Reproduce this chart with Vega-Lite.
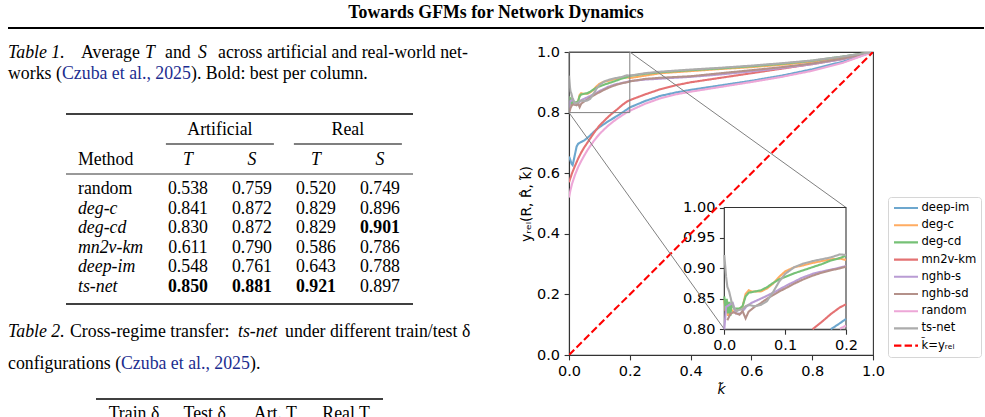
{
  "$schema": "https://vega.github.io/schema/vega-lite/v6.json",
  "padding": {"left": 7, "top": 0, "right": 0, "bottom": 0},
  "bounds": "flush",
  "spacing": 24,
  "resolve": {"scale": {"color": "independent", "strokeDash": "independent"}},
  "datasets": {
    "header": [{"text": "Towards GFMs for Network Dynamics"}],
    "captions": [
      {"table": 1, "line": 1, "part": "label", "text": "Table 1."},
      {"table": 1, "line": 1, "part": "w1", "text": "Average"},
      {"table": 1, "line": 1, "part": "m1", "text": "T"},
      {"table": 1, "line": 1, "part": "w2", "text": "and"},
      {"table": 1, "line": 1, "part": "m2", "text": "S"},
      {"table": 1, "line": 1, "part": "w3", "text": "across artificial and real-world net-"},
      {"table": 1, "line": 2, "part": "lead", "text": "works ("},
      {"table": 1, "line": 2, "part": "cite", "text": "Czuba et al., 2025"},
      {"table": 1, "line": 2, "part": "tail", "text": "). Bold: best per column."},
      {"table": 2, "line": 1, "part": "label", "text": "Table 2."},
      {"table": 2, "line": 1, "part": "w1", "text": "Cross-regime transfer:"},
      {"table": 2, "line": 1, "part": "m1", "text": "ts-net"},
      {"table": 2, "line": 1, "part": "w2", "text": "under different train/test δ"},
      {"table": 2, "line": 2, "part": "lead", "text": "configurations ("},
      {"table": 2, "line": 2, "part": "cite", "text": "Czuba et al., 2025"},
      {"table": 2, "line": 2, "part": "tail", "text": ")."}
    ],
    "t1head": [
      {"kind": "colhead", "col": "Method", "label": "Method", "row": "head"},
      {"kind": "colhead", "col": "AT", "label": "T", "row": "head"},
      {"kind": "colhead", "col": "AS", "label": "S", "row": "head"},
      {"kind": "colhead", "col": "RT", "label": "T", "row": "head"},
      {"kind": "colhead", "col": "RS", "label": "S", "row": "head"},
      {"kind": "group", "group": "Artificial", "row": "group"},
      {"kind": "group", "group": "Real", "row": "group"}
    ],
    "t1": [
      {"method": "random", "col": "AT", "value": 0.538},
      {"method": "random", "col": "AS", "value": 0.759},
      {"method": "random", "col": "RT", "value": 0.520},
      {"method": "random", "col": "RS", "value": 0.749},
      {"method": "deg-c", "col": "AT", "value": 0.841},
      {"method": "deg-c", "col": "AS", "value": 0.872},
      {"method": "deg-c", "col": "RT", "value": 0.829},
      {"method": "deg-c", "col": "RS", "value": 0.896},
      {"method": "deg-cd", "col": "AT", "value": 0.830},
      {"method": "deg-cd", "col": "AS", "value": 0.872},
      {"method": "deg-cd", "col": "RT", "value": 0.829},
      {"method": "deg-cd", "col": "RS", "value": 0.901},
      {"method": "mn2v-km", "col": "AT", "value": 0.611},
      {"method": "mn2v-km", "col": "AS", "value": 0.790},
      {"method": "mn2v-km", "col": "RT", "value": 0.586},
      {"method": "mn2v-km", "col": "RS", "value": 0.786},
      {"method": "deep-im", "col": "AT", "value": 0.548},
      {"method": "deep-im", "col": "AS", "value": 0.761},
      {"method": "deep-im", "col": "RT", "value": 0.643},
      {"method": "deep-im", "col": "RS", "value": 0.788},
      {"method": "ts-net", "col": "AT", "value": 0.850},
      {"method": "ts-net", "col": "AS", "value": 0.881},
      {"method": "ts-net", "col": "RT", "value": 0.921},
      {"method": "ts-net", "col": "RS", "value": 0.897}
    ],
    "t2head": [
      {"col": "train", "label": "Train δ", "row": "head"},
      {"col": "test", "label": "Test δ", "row": "head"},
      {"col": "art", "label": "Art. T", "row": "head"},
      {"col": "real", "label": "Real T", "row": "head"}
    ],
    "zoom": [{"k0": 0, "k1": 0.2, "y0": 0.8, "y1": 1.0}],
    "connectors": [
      {"k": 0.2, "yrel": 1.0, "k2": 0.911, "y2": 0.487},
      {"k": 0.0, "yrel": 0.8, "k2": 0.511, "y2": 0.085}
    ],
    "curves": [
      {"method": "deep-im", "k": 0, "yrel": 0.655}, {"method": "deep-im", "k": 0.004, "yrel": 0.645}, {"method": "deep-im", "k": 0.008, "yrel": 0.632},
      {"method": "deep-im", "k": 0.012, "yrel": 0.627}, {"method": "deep-im", "k": 0.016, "yrel": 0.645}, {"method": "deep-im", "k": 0.02, "yrel": 0.664},
      {"method": "deep-im", "k": 0.025, "yrel": 0.688}, {"method": "deep-im", "k": 0.03, "yrel": 0.697}, {"method": "deep-im", "k": 0.035, "yrel": 0.7},
      {"method": "deep-im", "k": 0.04, "yrel": 0.703}, {"method": "deep-im", "k": 0.05, "yrel": 0.708}, {"method": "deep-im", "k": 0.06, "yrel": 0.716},
      {"method": "deep-im", "k": 0.07, "yrel": 0.725}, {"method": "deep-im", "k": 0.08, "yrel": 0.735}, {"method": "deep-im", "k": 0.09, "yrel": 0.744},
      {"method": "deep-im", "k": 0.1, "yrel": 0.752}, {"method": "deep-im", "k": 0.115, "yrel": 0.762}, {"method": "deep-im", "k": 0.13, "yrel": 0.772},
      {"method": "deep-im", "k": 0.145, "yrel": 0.781}, {"method": "deep-im", "k": 0.16, "yrel": 0.79}, {"method": "deep-im", "k": 0.175, "yrel": 0.8},
      {"method": "deep-im", "k": 0.19, "yrel": 0.81}, {"method": "deep-im", "k": 0.2, "yrel": 0.817}, {"method": "deep-im", "k": 0.25, "yrel": 0.838},
      {"method": "deep-im", "k": 0.3, "yrel": 0.855}, {"method": "deep-im", "k": 0.35, "yrel": 0.866}, {"method": "deep-im", "k": 0.4, "yrel": 0.875},
      {"method": "deep-im", "k": 0.5, "yrel": 0.89}, {"method": "deep-im", "k": 0.6, "yrel": 0.905}, {"method": "deep-im", "k": 0.7, "yrel": 0.922},
      {"method": "deep-im", "k": 0.8, "yrel": 0.943}, {"method": "deep-im", "k": 0.9, "yrel": 0.968}, {"method": "deep-im", "k": 1.0, "yrel": 1.0},

      {"method": "deg-c", "k": 0, "yrel": 0.848}, {"method": "deg-c", "k": 0.002, "yrel": 0.83}, {"method": "deg-c", "k": 0.004, "yrel": 0.845},
      {"method": "deg-c", "k": 0.006, "yrel": 0.822}, {"method": "deg-c", "k": 0.008, "yrel": 0.84}, {"method": "deg-c", "k": 0.012, "yrel": 0.832},
      {"method": "deg-c", "k": 0.016, "yrel": 0.828}, {"method": "deg-c", "k": 0.02, "yrel": 0.83}, {"method": "deg-c", "k": 0.025, "yrel": 0.834},
      {"method": "deg-c", "k": 0.03, "yrel": 0.837}, {"method": "deg-c", "k": 0.035, "yrel": 0.858}, {"method": "deg-c", "k": 0.04, "yrel": 0.864},
      {"method": "deg-c", "k": 0.045, "yrel": 0.862}, {"method": "deg-c", "k": 0.05, "yrel": 0.862}, {"method": "deg-c", "k": 0.06, "yrel": 0.862},
      {"method": "deg-c", "k": 0.07, "yrel": 0.867}, {"method": "deg-c", "k": 0.08, "yrel": 0.875}, {"method": "deg-c", "k": 0.09, "yrel": 0.886},
      {"method": "deg-c", "k": 0.1, "yrel": 0.895}, {"method": "deg-c", "k": 0.115, "yrel": 0.902}, {"method": "deg-c", "k": 0.13, "yrel": 0.905},
      {"method": "deg-c", "k": 0.145, "yrel": 0.909}, {"method": "deg-c", "k": 0.16, "yrel": 0.912}, {"method": "deg-c", "k": 0.175, "yrel": 0.915},
      {"method": "deg-c", "k": 0.19, "yrel": 0.916}, {"method": "deg-c", "k": 0.2, "yrel": 0.914}, {"method": "deg-c", "k": 0.25, "yrel": 0.922},
      {"method": "deg-c", "k": 0.3, "yrel": 0.93}, {"method": "deg-c", "k": 0.4, "yrel": 0.937}, {"method": "deg-c", "k": 0.5, "yrel": 0.944},
      {"method": "deg-c", "k": 0.6, "yrel": 0.95}, {"method": "deg-c", "k": 0.7, "yrel": 0.958}, {"method": "deg-c", "k": 0.8, "yrel": 0.968},
      {"method": "deg-c", "k": 0.9, "yrel": 0.983}, {"method": "deg-c", "k": 1.0, "yrel": 1.0},

      {"method": "deg-cd", "k": 0, "yrel": 0.854}, {"method": "deg-cd", "k": 0.002, "yrel": 0.832}, {"method": "deg-cd", "k": 0.004, "yrel": 0.85},
      {"method": "deg-cd", "k": 0.006, "yrel": 0.826}, {"method": "deg-cd", "k": 0.008, "yrel": 0.845}, {"method": "deg-cd", "k": 0.01, "yrel": 0.822},
      {"method": "deg-cd", "k": 0.012, "yrel": 0.843}, {"method": "deg-cd", "k": 0.016, "yrel": 0.834}, {"method": "deg-cd", "k": 0.02, "yrel": 0.834},
      {"method": "deg-cd", "k": 0.025, "yrel": 0.834}, {"method": "deg-cd", "k": 0.03, "yrel": 0.838}, {"method": "deg-cd", "k": 0.035, "yrel": 0.854},
      {"method": "deg-cd", "k": 0.04, "yrel": 0.86}, {"method": "deg-cd", "k": 0.05, "yrel": 0.862}, {"method": "deg-cd", "k": 0.06, "yrel": 0.864},
      {"method": "deg-cd", "k": 0.07, "yrel": 0.869}, {"method": "deg-cd", "k": 0.08, "yrel": 0.876}, {"method": "deg-cd", "k": 0.09, "yrel": 0.882},
      {"method": "deg-cd", "k": 0.1, "yrel": 0.886}, {"method": "deg-cd", "k": 0.115, "yrel": 0.892}, {"method": "deg-cd", "k": 0.13, "yrel": 0.897},
      {"method": "deg-cd", "k": 0.145, "yrel": 0.902}, {"method": "deg-cd", "k": 0.16, "yrel": 0.907}, {"method": "deg-cd", "k": 0.175, "yrel": 0.913},
      {"method": "deg-cd", "k": 0.19, "yrel": 0.917}, {"method": "deg-cd", "k": 0.2, "yrel": 0.921}, {"method": "deg-cd", "k": 0.25, "yrel": 0.928},
      {"method": "deg-cd", "k": 0.3, "yrel": 0.933}, {"method": "deg-cd", "k": 0.4, "yrel": 0.94}, {"method": "deg-cd", "k": 0.5, "yrel": 0.946},
      {"method": "deg-cd", "k": 0.6, "yrel": 0.953}, {"method": "deg-cd", "k": 0.7, "yrel": 0.961}, {"method": "deg-cd", "k": 0.8, "yrel": 0.971},
      {"method": "deg-cd", "k": 0.9, "yrel": 0.985}, {"method": "deg-cd", "k": 1.0, "yrel": 1.0},

      {"method": "mn2v-km", "k": 0, "yrel": 0.57}, {"method": "mn2v-km", "k": 0.005, "yrel": 0.585}, {"method": "mn2v-km", "k": 0.01, "yrel": 0.6},
      {"method": "mn2v-km", "k": 0.02, "yrel": 0.625}, {"method": "mn2v-km", "k": 0.03, "yrel": 0.648}, {"method": "mn2v-km", "k": 0.04, "yrel": 0.668},
      {"method": "mn2v-km", "k": 0.05, "yrel": 0.685}, {"method": "mn2v-km", "k": 0.06, "yrel": 0.7}, {"method": "mn2v-km", "k": 0.07, "yrel": 0.715},
      {"method": "mn2v-km", "k": 0.08, "yrel": 0.73}, {"method": "mn2v-km", "k": 0.09, "yrel": 0.744}, {"method": "mn2v-km", "k": 0.1, "yrel": 0.757},
      {"method": "mn2v-km", "k": 0.115, "yrel": 0.772}, {"method": "mn2v-km", "k": 0.13, "yrel": 0.787}, {"method": "mn2v-km", "k": 0.145, "yrel": 0.8},
      {"method": "mn2v-km", "k": 0.16, "yrel": 0.812}, {"method": "mn2v-km", "k": 0.175, "yrel": 0.825}, {"method": "mn2v-km", "k": 0.19, "yrel": 0.836},
      {"method": "mn2v-km", "k": 0.2, "yrel": 0.841}, {"method": "mn2v-km", "k": 0.25, "yrel": 0.86}, {"method": "mn2v-km", "k": 0.3, "yrel": 0.877},
      {"method": "mn2v-km", "k": 0.35, "yrel": 0.89}, {"method": "mn2v-km", "k": 0.4, "yrel": 0.9}, {"method": "mn2v-km", "k": 0.5, "yrel": 0.915},
      {"method": "mn2v-km", "k": 0.6, "yrel": 0.93}, {"method": "mn2v-km", "k": 0.7, "yrel": 0.945}, {"method": "mn2v-km", "k": 0.8, "yrel": 0.96},
      {"method": "mn2v-km", "k": 0.9, "yrel": 0.977}, {"method": "mn2v-km", "k": 1.0, "yrel": 1.0},

      {"method": "nghb-s", "k": 0, "yrel": 0.8}, {"method": "nghb-s", "k": 0.003, "yrel": 0.837}, {"method": "nghb-s", "k": 0.008, "yrel": 0.84},
      {"method": "nghb-s", "k": 0.014, "yrel": 0.843}, {"method": "nghb-s", "k": 0.019, "yrel": 0.826}, {"method": "nghb-s", "k": 0.027, "yrel": 0.826},
      {"method": "nghb-s", "k": 0.036, "yrel": 0.837}, {"method": "nghb-s", "k": 0.044, "yrel": 0.843}, {"method": "nghb-s", "k": 0.055, "yrel": 0.848},
      {"method": "nghb-s", "k": 0.07, "yrel": 0.855}, {"method": "nghb-s", "k": 0.088, "yrel": 0.864}, {"method": "nghb-s", "k": 0.104, "yrel": 0.873},
      {"method": "nghb-s", "k": 0.115, "yrel": 0.878}, {"method": "nghb-s", "k": 0.126, "yrel": 0.884}, {"method": "nghb-s", "k": 0.148, "yrel": 0.892},
      {"method": "nghb-s", "k": 0.17, "yrel": 0.897}, {"method": "nghb-s", "k": 0.185, "yrel": 0.9}, {"method": "nghb-s", "k": 0.2, "yrel": 0.904},
      {"method": "nghb-s", "k": 0.25, "yrel": 0.909}, {"method": "nghb-s", "k": 0.3, "yrel": 0.912}, {"method": "nghb-s", "k": 0.4, "yrel": 0.918},
      {"method": "nghb-s", "k": 0.5, "yrel": 0.926}, {"method": "nghb-s", "k": 0.6, "yrel": 0.936}, {"method": "nghb-s", "k": 0.7, "yrel": 0.947},
      {"method": "nghb-s", "k": 0.8, "yrel": 0.96}, {"method": "nghb-s", "k": 0.9, "yrel": 0.976}, {"method": "nghb-s", "k": 1.0, "yrel": 1.0},

      {"method": "nghb-sd", "k": 0, "yrel": 0.798}, {"method": "nghb-sd", "k": 0.005, "yrel": 0.815}, {"method": "nghb-sd", "k": 0.01, "yrel": 0.825},
      {"method": "nghb-sd", "k": 0.015, "yrel": 0.828}, {"method": "nghb-sd", "k": 0.02, "yrel": 0.826}, {"method": "nghb-sd", "k": 0.025, "yrel": 0.824},
      {"method": "nghb-sd", "k": 0.03, "yrel": 0.83}, {"method": "nghb-sd", "k": 0.035, "yrel": 0.818}, {"method": "nghb-sd", "k": 0.04, "yrel": 0.829},
      {"method": "nghb-sd", "k": 0.05, "yrel": 0.837}, {"method": "nghb-sd", "k": 0.06, "yrel": 0.843}, {"method": "nghb-sd", "k": 0.07, "yrel": 0.85},
      {"method": "nghb-sd", "k": 0.08, "yrel": 0.856}, {"method": "nghb-sd", "k": 0.09, "yrel": 0.862}, {"method": "nghb-sd", "k": 0.1, "yrel": 0.867},
      {"method": "nghb-sd", "k": 0.115, "yrel": 0.875}, {"method": "nghb-sd", "k": 0.13, "yrel": 0.882}, {"method": "nghb-sd", "k": 0.145, "yrel": 0.888},
      {"method": "nghb-sd", "k": 0.16, "yrel": 0.893}, {"method": "nghb-sd", "k": 0.175, "yrel": 0.897}, {"method": "nghb-sd", "k": 0.19, "yrel": 0.9},
      {"method": "nghb-sd", "k": 0.2, "yrel": 0.903}, {"method": "nghb-sd", "k": 0.25, "yrel": 0.911}, {"method": "nghb-sd", "k": 0.3, "yrel": 0.915},
      {"method": "nghb-sd", "k": 0.4, "yrel": 0.92}, {"method": "nghb-sd", "k": 0.5, "yrel": 0.93}, {"method": "nghb-sd", "k": 0.6, "yrel": 0.94},
      {"method": "nghb-sd", "k": 0.7, "yrel": 0.95}, {"method": "nghb-sd", "k": 0.8, "yrel": 0.962}, {"method": "nghb-sd", "k": 0.9, "yrel": 0.978},
      {"method": "nghb-sd", "k": 1.0, "yrel": 1.0},

      {"method": "random", "k": 0, "yrel": 0.52}, {"method": "random", "k": 0.005, "yrel": 0.545}, {"method": "random", "k": 0.01, "yrel": 0.565},
      {"method": "random", "k": 0.02, "yrel": 0.595}, {"method": "random", "k": 0.03, "yrel": 0.62}, {"method": "random", "k": 0.04, "yrel": 0.64},
      {"method": "random", "k": 0.05, "yrel": 0.658}, {"method": "random", "k": 0.06, "yrel": 0.675}, {"method": "random", "k": 0.07, "yrel": 0.69},
      {"method": "random", "k": 0.08, "yrel": 0.704}, {"method": "random", "k": 0.09, "yrel": 0.717}, {"method": "random", "k": 0.1, "yrel": 0.729},
      {"method": "random", "k": 0.115, "yrel": 0.744}, {"method": "random", "k": 0.13, "yrel": 0.758}, {"method": "random", "k": 0.145, "yrel": 0.77},
      {"method": "random", "k": 0.16, "yrel": 0.781}, {"method": "random", "k": 0.175, "yrel": 0.791}, {"method": "random", "k": 0.19, "yrel": 0.801},
      {"method": "random", "k": 0.2, "yrel": 0.806}, {"method": "random", "k": 0.25, "yrel": 0.829}, {"method": "random", "k": 0.3, "yrel": 0.847},
      {"method": "random", "k": 0.35, "yrel": 0.86}, {"method": "random", "k": 0.4, "yrel": 0.869}, {"method": "random", "k": 0.5, "yrel": 0.885},
      {"method": "random", "k": 0.6, "yrel": 0.901}, {"method": "random", "k": 0.7, "yrel": 0.918}, {"method": "random", "k": 0.8, "yrel": 0.938},
      {"method": "random", "k": 0.9, "yrel": 0.964}, {"method": "random", "k": 1.0, "yrel": 1.0},

      {"method": "ts-net", "k": 0, "yrel": 0.922}, {"method": "ts-net", "k": 0.003, "yrel": 0.886}, {"method": "ts-net", "k": 0.005, "yrel": 0.87},
      {"method": "ts-net", "k": 0.008, "yrel": 0.862}, {"method": "ts-net", "k": 0.012, "yrel": 0.845}, {"method": "ts-net", "k": 0.016, "yrel": 0.835},
      {"method": "ts-net", "k": 0.02, "yrel": 0.83}, {"method": "ts-net", "k": 0.025, "yrel": 0.832}, {"method": "ts-net", "k": 0.03, "yrel": 0.833},
      {"method": "ts-net", "k": 0.035, "yrel": 0.838}, {"method": "ts-net", "k": 0.04, "yrel": 0.84}, {"method": "ts-net", "k": 0.05, "yrel": 0.838},
      {"method": "ts-net", "k": 0.06, "yrel": 0.84}, {"method": "ts-net", "k": 0.07, "yrel": 0.846}, {"method": "ts-net", "k": 0.08, "yrel": 0.861},
      {"method": "ts-net", "k": 0.09, "yrel": 0.878}, {"method": "ts-net", "k": 0.1, "yrel": 0.891}, {"method": "ts-net", "k": 0.115, "yrel": 0.902},
      {"method": "ts-net", "k": 0.13, "yrel": 0.908}, {"method": "ts-net", "k": 0.145, "yrel": 0.912}, {"method": "ts-net", "k": 0.16, "yrel": 0.915},
      {"method": "ts-net", "k": 0.175, "yrel": 0.918}, {"method": "ts-net", "k": 0.19, "yrel": 0.923}, {"method": "ts-net", "k": 0.2, "yrel": 0.922},
      {"method": "ts-net", "k": 0.25, "yrel": 0.93}, {"method": "ts-net", "k": 0.3, "yrel": 0.935}, {"method": "ts-net", "k": 0.4, "yrel": 0.942},
      {"method": "ts-net", "k": 0.5, "yrel": 0.948}, {"method": "ts-net", "k": 0.6, "yrel": 0.955}, {"method": "ts-net", "k": 0.7, "yrel": 0.963},
      {"method": "ts-net", "k": 0.8, "yrel": 0.972}, {"method": "ts-net", "k": 0.9, "yrel": 0.985}, {"method": "ts-net", "k": 1.0, "yrel": 1.0},

      {"method": "k\u0303=y\u1d63\u2091\u2097", "k": 0, "yrel": 0}, {"method": "k\u0303=y\u1d63\u2091\u2097", "k": 1, "yrel": 1}
    ]
  },
  "vconcat": [
    {
      "width": 976,
      "height": 28,
      "data": {"name": "header"},
      "layer": [
        {
          "mark": {"type": "text", "font": "Liberation Serif", "fontWeight": "bold", "fontSize": 17.8, "baseline": "middle", "dy": -1.5, "color": "#000"},
          "encoding": {"text": {"field": "text"}}
        },
        {
          "mark": {"type": "rule", "strokeWidth": 2, "color": "#000"},
          "encoding": {"y": {"datum": 0, "type": "quantitative", "scale": {"domain": [0, 1]}, "axis": null}}
        }
      ]
    },
    {
      "hconcat": [
        {
          "vconcat": [
            {
              "width": 463,
              "height": 62,
              "data": {"name": "captions"},
              "transform": [{"filter": "datum.table == 1"}],
              "encoding": {
                "x": {"datum": 0, "type": "quantitative", "scale": {"domain": [0, 1]}, "axis": null},
                "y": {"field": "line", "type": "ordinal", "scale": {"type": "point", "domain": [1, 2], "padding": 1.05, "align": 0.143}, "axis": null},
                "text": {"field": "text"}
              },
              "layer": [
                {"transform": [{"filter": "datum.part == 'label'"}], "mark": {"type": "text", "align": "left", "baseline": "alphabetic", "font": "Liberation Serif", "fontSize": 17.8, "fontStyle": "italic", "color": "#000"}},
                {"transform": [{"filter": "datum.part == 'w1'"}], "mark": {"type": "text", "align": "left", "baseline": "alphabetic", "font": "Liberation Serif", "fontSize": 17.8, "dx": 73, "color": "#000"}},
                {"transform": [{"filter": "datum.part == 'm1'"}], "mark": {"type": "text", "align": "left", "baseline": "alphabetic", "font": "Liberation Serif", "fontSize": 17.8, "fontStyle": "italic", "dx": 137, "color": "#000"}},
                {"transform": [{"filter": "datum.part == 'w2'"}], "mark": {"type": "text", "align": "left", "baseline": "alphabetic", "font": "Liberation Serif", "fontSize": 17.8, "dx": 157, "color": "#000"}},
                {"transform": [{"filter": "datum.part == 'm2'"}], "mark": {"type": "text", "align": "left", "baseline": "alphabetic", "font": "Liberation Serif", "fontSize": 17.8, "fontStyle": "italic", "dx": 190, "color": "#000"}},
                {"transform": [{"filter": "datum.part == 'w3'"}], "mark": {"type": "text", "align": "left", "baseline": "alphabetic", "font": "Liberation Serif", "fontSize": 17.8, "dx": 210, "color": "#000"}},
                {"transform": [{"filter": "datum.part == 'lead'"}], "mark": {"type": "text", "align": "left", "baseline": "alphabetic", "font": "Liberation Serif", "fontSize": 17.8, "color": "#000"}},
                {"transform": [{"filter": "datum.part == 'cite'"}], "mark": {"type": "text", "align": "left", "baseline": "alphabetic", "font": "Liberation Serif", "fontSize": 17.8, "dx": 54, "color": "#1c2d8f"}},
                {"transform": [{"filter": "datum.part == 'tail'"}], "mark": {"type": "text", "align": "left", "baseline": "alphabetic", "font": "Liberation Serif", "fontSize": 17.8, "dx": 183, "color": "#000"}}
              ]
            },
            {
              "width": 347,
              "height": 60,
              "data": {"name": "t1head"},
              "resolve": {"scale": {"x": "independent"}},
              "encoding": {
                "y": {"field": "row", "type": "nominal", "scale": {"type": "band", "domain": ["group", "head"], "paddingInner": 0, "paddingOuter": 0}, "axis": null, "bandPosition": 0.7}
              },
              "layer": [
                {
                  "transform": [{"filter": "datum.col == 'Method'"}],
                  "mark": {"type": "text", "align": "left", "dx": -46, "baseline": "alphabetic", "font": "Liberation Serif", "fontSize": 17.8, "color": "#000"},
                  "encoding": {
                    "x": {"field": "col", "type": "nominal", "scale": {"type": "point", "domain": ["Method", "AT", "AS", "RT", "RS"], "padding": 0.711, "align": 0.637}, "axis": null},
                    "text": {"field": "label"}
                  }
                },
                {
                  "transform": [{"filter": "datum.kind == 'colhead' && datum.col != 'Method'"}],
                  "mark": {"type": "text", "align": "center", "baseline": "alphabetic", "font": "Liberation Serif", "fontSize": 17.8, "fontStyle": "italic", "color": "#000"},
                  "encoding": {
                    "x": {"field": "col", "type": "nominal", "scale": {"type": "point", "domain": ["Method", "AT", "AS", "RT", "RS"], "padding": 0.711, "align": 0.637}, "axis": null},
                    "text": {"field": "label"}
                  }
                },
                {
                  "transform": [{"filter": "datum.kind == 'group'"}],
                  "mark": {"type": "text", "align": "center", "baseline": "alphabetic", "font": "Liberation Serif", "fontSize": 17.8, "color": "#000"},
                  "encoding": {
                    "x": {"field": "group", "type": "nominal", "scale": {"type": "band", "domain": ["Artificial", "Real"], "paddingInner": 0.156, "paddingOuter": 0.4336, "align": 0.9}, "axis": null},
                    "text": {"field": "group"}
                  }
                },
                {
                  "transform": [{"filter": "datum.kind == 'group'"}],
                  "mark": {"type": "tick", "orient": "horizontal", "size": 108, "thickness": 0.8, "color": "#000", "opacity": 1},
                  "encoding": {
                    "x": {"field": "group", "type": "nominal", "scale": {"type": "band", "domain": ["Artificial", "Real"], "paddingInner": 0.156, "paddingOuter": 0.4336, "align": 0.9}, "axis": null},
                    "y": {"field": "row", "type": "nominal", "bandPosition": 1}
                  }
                },
                {
                  "transform": [{"filter": "datum.group == 'Artificial'"}],
                  "mark": {"type": "rule", "strokeWidth": 1.3, "color": "#000"},
                  "encoding": {"y": {"field": "row", "type": "nominal", "bandPosition": 0}}
                },
                {
                  "transform": [{"filter": "datum.col == 'Method'"}],
                  "mark": {"type": "rule", "strokeWidth": 0.8, "color": "#000"},
                  "encoding": {"y": {"field": "row", "type": "nominal", "bandPosition": 1}}
                }
              ]
            },
            {
              "width": 347,
              "height": 130,
              "data": {"name": "t1"},
              "encoding": {
                "y": {"field": "method", "type": "nominal", "scale": {"type": "band", "domain": ["random", "deg-c", "deg-cd", "mn2v-km", "deep-im", "ts-net"], "paddingInner": 0, "paddingOuter": 0.316, "align": 1}, "axis": null, "bandPosition": 0.39}
              },
              "layer": [
                {
                  "transform": [{"filter": "datum.col == 'AT' && datum.method == 'random'"}],
                  "mark": {"type": "text", "align": "left", "dx": -46, "baseline": "alphabetic", "font": "Liberation Serif", "fontSize": 17.8, "color": "#000"},
                  "encoding": {
                    "x": {"datum": "Method", "type": "nominal", "scale": {"type": "point", "domain": ["Method", "AT", "AS", "RT", "RS"], "padding": 0.711, "align": 0.637}, "axis": null},
                    "text": {"field": "method"}
                  }
                },
                {
                  "transform": [{"filter": "datum.col == 'AT' && datum.method != 'random'"}],
                  "mark": {"type": "text", "align": "left", "dx": -46, "baseline": "alphabetic", "font": "Liberation Serif", "fontSize": 17.8, "fontStyle": "italic", "color": "#000"},
                  "encoding": {
                    "x": {"datum": "Method", "type": "nominal", "scale": {"type": "point", "domain": ["Method", "AT", "AS", "RT", "RS"], "padding": 0.711, "align": 0.637}, "axis": null},
                    "text": {"field": "method"}
                  }
                },
                {
                  "transform": [
                    {"joinaggregate": [{"op": "max", "field": "value", "as": "best"}], "groupby": ["col"]},
                    {"filter": "datum.value != datum.best"}
                  ],
                  "mark": {"type": "text", "align": "center", "baseline": "alphabetic", "font": "Liberation Serif", "fontSize": 17.8, "color": "#000"},
                  "encoding": {
                    "x": {"field": "col", "type": "nominal", "scale": {"type": "point", "domain": ["Method", "AT", "AS", "RT", "RS"], "padding": 0.711, "align": 0.637}, "axis": null},
                    "text": {"field": "value", "type": "quantitative", "format": ".3f"}
                  }
                },
                {
                  "transform": [
                    {"joinaggregate": [{"op": "max", "field": "value", "as": "best"}], "groupby": ["col"]},
                    {"filter": "datum.value == datum.best"}
                  ],
                  "mark": {"type": "text", "align": "center", "baseline": "alphabetic", "font": "Liberation Serif", "fontSize": 17.8, "fontWeight": "bold", "color": "#000"},
                  "encoding": {
                    "x": {"field": "col", "type": "nominal", "scale": {"type": "point", "domain": ["Method", "AT", "AS", "RT", "RS"], "padding": 0.711, "align": 0.637}, "axis": null},
                    "text": {"field": "value", "type": "quantitative", "format": ".3f"}
                  }
                },
                {
                  "transform": [{"filter": "datum.col == 'AT' && datum.method == 'ts-net'"}],
                  "mark": {"type": "rule", "strokeWidth": 1.3, "color": "#000"},
                  "encoding": {"y": {"field": "method", "type": "nominal", "bandPosition": 1}}
                }
              ]
            },
            {
              "width": 463,
              "height": 95,
              "data": {"name": "captions"},
              "transform": [{"filter": "datum.table == 2"}],
              "encoding": {
                "x": {"datum": 0, "type": "quantitative", "scale": {"domain": [0, 1]}, "axis": null},
                "y": {"field": "line", "type": "ordinal", "scale": {"type": "point", "domain": [1, 2], "padding": 1.875, "align": 0.52}, "axis": null},
                "text": {"field": "text"}
              },
              "layer": [
                {"transform": [{"filter": "datum.part == 'label'"}], "mark": {"type": "text", "align": "left", "baseline": "alphabetic", "font": "Liberation Serif", "fontSize": 17.8, "fontStyle": "italic", "color": "#000"}},
                {"transform": [{"filter": "datum.part == 'w1'"}], "mark": {"type": "text", "align": "left", "baseline": "alphabetic", "font": "Liberation Serif", "fontSize": 17.8, "dx": 62, "color": "#000"}},
                {"transform": [{"filter": "datum.part == 'm1'"}], "mark": {"type": "text", "align": "left", "baseline": "alphabetic", "font": "Liberation Serif", "fontSize": 17.8, "fontStyle": "italic", "dx": 230, "color": "#000"}},
                {"transform": [{"filter": "datum.part == 'w2'"}], "mark": {"type": "text", "align": "left", "baseline": "alphabetic", "font": "Liberation Serif", "fontSize": 17.8, "dx": 277, "color": "#000"}},
                {"transform": [{"filter": "datum.part == 'lead'"}], "mark": {"type": "text", "align": "left", "baseline": "alphabetic", "font": "Liberation Serif", "fontSize": 17.8, "color": "#000"}},
                {"transform": [{"filter": "datum.part == 'cite'"}], "mark": {"type": "text", "align": "left", "baseline": "alphabetic", "font": "Liberation Serif", "fontSize": 17.8, "dx": 113, "color": "#1c2d8f"}},
                {"transform": [{"filter": "datum.part == 'tail'"}], "mark": {"type": "text", "align": "left", "baseline": "alphabetic", "font": "Liberation Serif", "fontSize": 17.8, "dx": 242, "color": "#000"}}
              ]
            },
            {
              "width": 287,
              "height": 30,
              "data": {"name": "t2head"},
              "encoding": {
                "y": {"field": "row", "type": "nominal", "scale": {"type": "band", "domain": ["head"], "paddingInner": 0, "paddingOuter": 0}, "axis": null, "bandPosition": 0.68}
              },
              "layer": [
                {
                  "mark": {"type": "text", "align": "center", "baseline": "alphabetic", "font": "Liberation Serif", "fontSize": 17.8, "color": "#000"},
                  "encoding": {
                    "x": {"field": "col", "type": "nominal", "scale": {"type": "point", "domain": ["train", "test", "art", "real"], "padding": 0.53, "align": 0.507}, "axis": null},
                    "text": {"field": "label"}
                  }
                },
                {
                  "transform": [{"filter": "datum.col == 'train'"}],
                  "mark": {"type": "rule", "strokeWidth": 1.3, "color": "#000"},
                  "encoding": {"y": {"field": "row", "type": "nominal", "bandPosition": 0}}
                }
              ]
            }
          ],
          "spacing": 0,
          "bounds": "flush",
          "center": true
        },
        {
          "width": 304,
          "height": 303,
          "view": {"stroke": "#333", "strokeWidth": 1.1},
          "resolve": {"scale": {"x": "independent", "y": "independent"}},
          "layer": [
            {
              "data": {"name": "curves"},
              "mark": {"type": "line", "strokeWidth": 2.1, "clip": true},
              "encoding": {
                "x": {"field": "k", "type": "quantitative", "scale": {"domain": [0, 1], "nice": false, "zero": false},
                      "axis": {"orient": "bottom", "values": [0, 0.2, 0.4, 0.6, 0.8, 1], "format": ".1f", "title": "k\u0303", "titleFontStyle": "italic", "titlePadding": 5}},
                "y": {"field": "yrel", "type": "quantitative", "scale": {"domain": [0, 1], "nice": false, "zero": false},
                      "axis": {"orient": "left", "values": [0, 0.2, 0.4, 0.6, 0.8, 1], "format": ".1f", "title": "y\u1d63\u2091\u2097(R, R\u0302, k\u0303)", "titlePadding": 3}},
                "color": {"field": "method", "type": "nominal",
                  "scale": {"domain": ["deep-im", "deg-c", "deg-cd", "mn2v-km", "nghb-s", "nghb-sd", "random", "ts-net", "k\u0303=y\u1d63\u2091\u2097"],
                            "range": ["#6da7ce", "#ffac62", "#76c176", "#e47273", "#b99cd4", "#b4918a", "#eda7d7", "#acacac", "#ff0000"]},
                  "legend": {"title": null, "orient": "none", "legendX": 319, "legendY": 145, "symbolType": "stroke", "symbolSize": 576, "symbolStrokeWidth": 2.1, "clipHeight": 13, "labelFont": "DejaVu Sans", "labelFontSize": 11.6, "labelColor": "#000", "labelOffset": 2, "padding": 4.5, "rowPadding": 4.2, "strokeColor": "#d6d6d6", "fillColor": "#ffffff", "cornerRadius": 3, "labelLimit": 0}},
                "strokeDash": {"field": "method", "type": "nominal",
                  "scale": {"domain": ["deep-im", "deg-c", "deg-cd", "mn2v-km", "nghb-s", "nghb-sd", "random", "ts-net", "k\u0303=y\u1d63\u2091\u2097"],
                            "range": [[1, 0], [1, 0], [1, 0], [1, 0], [1, 0], [1, 0], [1, 0], [1, 0], [7.4, 3.2]]},
                  "legend": {"title": null, "orient": "none", "legendX": 319, "legendY": 145, "symbolType": "stroke", "symbolSize": 576, "symbolStrokeWidth": 2.1, "clipHeight": 13, "labelFont": "DejaVu Sans", "labelFontSize": 11.6, "labelColor": "#000", "labelOffset": 2, "padding": 4.5, "rowPadding": 4.2, "strokeColor": "#d6d6d6", "fillColor": "#ffffff", "cornerRadius": 3, "labelLimit": 0}}
              }
            },
            {
              "data": {"name": "zoom"},
              "mark": {"type": "rect", "filled": false, "stroke": "#808080", "strokeWidth": 1},
              "encoding": {
                "x": {"field": "k0", "type": "quantitative", "scale": {"domain": [0, 1], "nice": false, "zero": false}, "axis": null},
                "x2": {"field": "k1"},
                "y": {"field": "y0", "type": "quantitative", "scale": {"domain": [0, 1], "nice": false, "zero": false}, "axis": null},
                "y2": {"field": "y1"}
              }
            },
            {
              "data": {"name": "connectors"},
              "mark": {"type": "rule", "color": "#808080", "strokeWidth": 1},
              "encoding": {
                "x": {"field": "k", "type": "quantitative", "scale": {"domain": [0, 1], "nice": false, "zero": false}, "axis": null},
                "x2": {"field": "k2"},
                "y": {"field": "yrel", "type": "quantitative", "scale": {"domain": [0, 1], "nice": false, "zero": false}, "axis": null},
                "y2": {"field": "y2"}
              }
            },
            {
              "data": {"name": "zoom"},
              "mark": {"type": "rect", "fill": "#ffffff", "stroke": "#333", "strokeWidth": 1.1},
              "encoding": {
                "x": {"field": "k0", "type": "quantitative", "scale": {"domain": [0, 0.2], "range": [155.3, 277], "nice": false, "zero": false}, "axis": null},
                "x2": {"field": "k1"},
                "y": {"field": "y0", "type": "quantitative", "scale": {"domain": [0.8, 1], "range": [277.3, 155.5], "nice": false, "zero": false}, "axis": null},
                "y2": {"field": "y1"}
              }
            },
            {
              "data": {"name": "curves"},
              "transform": [{"filter": "datum.k <= 0.2 && datum.yrel >= 0.8"}],
              "mark": {"type": "line", "strokeWidth": 2.1},
              "encoding": {
                "x": {"field": "k", "type": "quantitative", "scale": {"domain": [0, 0.2], "range": [155.3, 277], "nice": false, "zero": false},
                      "axis": {"orient": "bottom", "offset": -25.7, "values": [0, 0.1, 0.2], "format": ".1f", "title": null}},
                "y": {"field": "yrel", "type": "quantitative", "scale": {"domain": [0.8, 1], "range": [277.3, 155.5], "nice": false, "zero": false},
                      "axis": {"orient": "left", "offset": -155.3, "values": [0.8, 0.85, 0.9, 0.95, 1], "format": ".2f", "title": null}},
                "color": {"field": "method", "type": "nominal", "legend": null},
                "strokeDash": {"field": "method", "type": "nominal", "legend": null}
              }
            }
          ]
        }
      ],
      "spacing": 561,
      "bounds": "flush",
      "resolve": {"scale": {"color": "independent", "strokeDash": "independent"}}
    }
  ],
  "config": {
    "view": {"stroke": null},
    "axis": {
      "grid": false,
      "labelFont": "DejaVu Sans",
      "labelFontSize": 14.5,
      "labelColor": "#000",
      "labelPadding": 4.5,
      "labelFlush": false,
      "labelOverlap": false,
      "titleFont": "DejaVu Sans",
      "titleFontSize": 13.9,
      "titleFontWeight": "normal",
      "titleColor": "#000",
      "tickColor": "#333",
      "tickWidth": 1.1,
      "tickSize": 4.9,
      "domainColor": "#333",
      "domainWidth": 1.1
    }
  }
}
